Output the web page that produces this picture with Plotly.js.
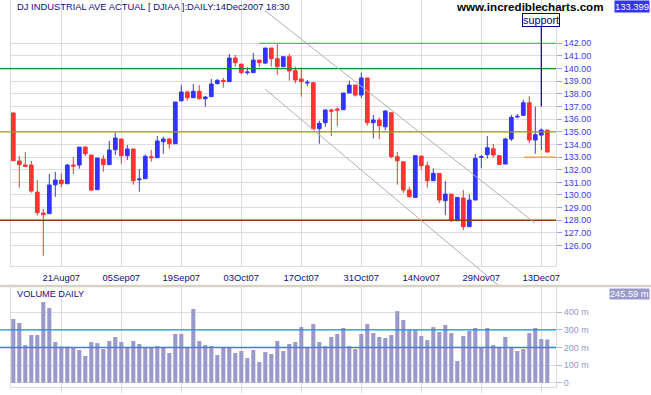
<!DOCTYPE html>
<html>
<head>
<meta charset="utf-8">
<script src="https://cdn.plot.ly/plotly-3.0.1.min.js"></script>
<style>html,body{margin:0;padding:0;background:#fff;}#chart{width:651px;height:395px;}</style>
</head>
<body>
<div id="chart"></div>
<script>
// ---------------- data ----------------
const dates = [
 '2007-08-09','2007-08-10','2007-08-13','2007-08-14','2007-08-15','2007-08-16','2007-08-17','2007-08-20','2007-08-21','2007-08-22',
 '2007-08-23','2007-08-24','2007-08-27','2007-08-28','2007-08-29','2007-08-30','2007-08-31','2007-09-04','2007-09-05','2007-09-06',
 '2007-09-07','2007-09-10','2007-09-11','2007-09-12','2007-09-13','2007-09-14','2007-09-17','2007-09-18','2007-09-19','2007-09-20',
 '2007-09-21','2007-09-24','2007-09-25','2007-09-26','2007-09-27','2007-09-28','2007-10-01','2007-10-02','2007-10-03','2007-10-04',
 '2007-10-05','2007-10-08','2007-10-09','2007-10-10','2007-10-11','2007-10-12','2007-10-15','2007-10-16','2007-10-17','2007-10-18',
 '2007-10-19','2007-10-22','2007-10-23','2007-10-24','2007-10-25','2007-10-26','2007-10-29','2007-10-30','2007-10-31','2007-11-01',
 '2007-11-02','2007-11-05','2007-11-06','2007-11-07','2007-11-08','2007-11-09','2007-11-12','2007-11-13','2007-11-14','2007-11-15',
 '2007-11-16','2007-11-19','2007-11-20','2007-11-21','2007-11-23','2007-11-26','2007-11-27','2007-11-28','2007-11-29','2007-11-30',
 '2007-12-03','2007-12-04','2007-12-05','2007-12-06','2007-12-07','2007-12-10','2007-12-11','2007-12-12','2007-12-13','2007-12-14'
];
const openP = [
 136.49,132.69,132.37,132.37,130.23,128.57,128.52,130.81,131.18,130.89,
 132.37,132.37,133.79,133.16,130.42,132.84,132.40,133.58,134.43,133.11,
 133.64,131.21,131.29,133.03,132.95,134.22,134.43,134.06,137.46,138.15,
 137.70,138.20,137.62,137.78,138.81,139.07,138.97,140.84,140.36,139.68,
 139.68,140.68,140.44,141.63,140.79,140.15,140.94,139.84,139.18,138.86,
 138.89,135.25,135.72,136.72,136.80,136.75,138.07,138.70,137.91,139.26,
 135.72,135.93,135.40,136.51,133.03,132.63,130.39,129.81,133.08,132.32,
 131.13,131.71,129.55,130.07,127.96,129.76,127.49,129.60,132.98,133.19,
 133.66,133.11,132.45,134.43,136.17,136.30,137.30,134.35,134.74,135.14
];
const highP = [
 136.52,133.08,133.40,132.69,131.18,128.89,131.66,131.82,131.71,132.45,
 133.00,133.79,133.87,133.16,132.92,133.16,134.27,134.93,134.43,133.95,
 133.64,132.05,133.21,133.56,134.67,134.61,134.53,137.36,138.70,138.25,
 138.78,138.70,137.83,139.18,139.18,139.26,141.16,141.08,140.36,140.10,
 141.23,140.68,141.63,141.63,142.00,141.00,141.16,140.15,140.07,139.10,
 138.89,135.88,136.78,136.83,136.93,138.07,139.05,138.70,139.68,139.26,
 136.33,136.14,136.72,136.51,133.40,132.63,130.65,133.11,133.08,132.63,
 132.11,131.71,131.10,130.07,129.81,130.39,130.05,133.24,133.16,134.67,
 134.03,133.16,134.53,136.35,136.41,137.54,137.83,136.99,135.27,135.14
];
const lowP = [
 132.68,130.58,132.24,130.18,128.39,125.19,128.52,129.86,130.60,130.89,
 131.66,132.08,133.08,130.31,130.42,131.84,132.40,133.16,132.47,132.77,
 130.81,130.26,131.29,132.63,132.95,133.27,133.66,134.06,137.38,137.46,
 137.70,137.54,136.99,137.78,138.75,138.49,138.97,140.15,139.55,139.52,
 139.68,140.13,140.36,140.15,139.52,140.15,139.05,138.83,137.78,138.62,
 135.22,134.06,135.40,134.67,135.46,136.75,138.07,137.78,137.67,135.48,
 134.48,134.43,135.14,132.90,130.81,130.18,129.86,129.81,131.97,130.58,
 131.13,129.36,128.41,127.88,127.96,127.22,127.49,129.60,132.11,132.87,
 132.95,132.37,132.45,134.27,136.06,136.30,134.08,133.27,133.56,133.35
];
const closeP = [
 132.71,132.40,132.26,130.31,128.60,128.44,130.79,131.18,130.89,132.37,
 132.29,133.79,133.27,130.39,132.92,132.40,133.56,134.51,133.11,133.64,
 131.13,131.26,133.06,132.95,134.27,134.43,134.06,137.36,138.15,137.70,
 138.20,137.62,137.75,138.78,139.07,138.99,140.84,140.47,139.68,139.73,
 140.68,140.47,141.63,140.79,140.15,140.94,139.81,139.10,138.97,138.91,
 135.22,135.67,136.72,136.64,136.72,138.07,138.70,137.91,139.26,135.72,
 135.93,135.48,136.64,133.03,132.71,130.39,129.86,133.11,132.32,131.13,
 131.71,129.60,130.07,127.96,129.81,127.49,129.60,132.90,133.03,133.74,
 133.16,132.42,134.43,136.14,136.22,137.30,134.35,134.77,135.14,133.399
];
const volumeM = [
 362,339,214,271,271,458,424,231,205,205,
 201,186,152,231,225,191,237,260,231,203,
 237,220,203,203,208,203,169,277,277,203,
 419,237,214,208,157,203,203,169,180,140,
 186,117,174,163,237,180,220,231,316,203,
 333,231,208,260,277,311,208,191,277,333,
 282,260,254,271,407,356,299,299,265,242,
 316,288,328,282,123,265,294,311,203,311,
 214,203,260,203,180,191,282,311,248,245.59
];
const tickDates  = ['2007-08-21','2007-09-05','2007-09-19','2007-10-03','2007-10-17','2007-10-31','2007-11-14','2007-11-29','2007-12-13'];
const tickLabels = ['21Aug07','05Sep07','19Sep07','03Oct07','17Oct07','31Oct07','14Nov07','29Nov07','13Dec07'];
const priceTicks = [126,127,128,129,130,131,132,133,134,135,136,137,138,139,140,141,142];
const volumeTicks = [0,100,200,300,400];
const volumeTickLabels = ['0','100 m','200 m','300 m','400 m'];
// horizontal price levels drawn on the chart
const resistance142 = 142, resistance140 = 140, level135 = 135, support128 = 128, support133 = 133;
const level142StartIndex = 40.95, level133StartIndex = 85.1;
const volumeLevels = [300, 200];
// trend channel lines: [start, end] as (bar index, price)
const upperChannelIdx = [41.95, 86.95], upperChannelPrice = [144.59, 127.78];
const lowerChannelIdx = [41.95, 80.78], lowerChannelPrice = [138.38, 122.88];
const supportDate = '2007-12-13', supportPrice = 137.0;
const lastClose = 133.399, lastVolume = 245.59;

// ---------------- layout geometry ----------------
const W = 651, H = 395;
const mL = 11, mR = 95, mT = 0, mB = 8;
const plotW = W - mL - mR, plotH = H - mT - mB;
const priceDomain = [(plotH - 266) / plotH, 1];
const volDomain = [0, (plotH - 287) / plotH];
const priceRange = [124.38, 145.43];
const volRange = [-24.4, 543.8];
const xRange = [-0.383, 90.45];
const px2paperX = px => (px - mL) / plotW;
const py2paperY = py => (plotH - (py - mT)) / plotH;
const price2paper = p => priceDomain[0] + (p - priceRange[0]) / (priceRange[1] - priceRange[0]) * (priceDomain[1] - priceDomain[0]);

const NAVY = '#10107a';
const GRID = '#dcdcdc';
const FONT = 'Arial, "Liberation Sans", sans-serif';

const traces = [
  {
    type: 'candlestick', x: dates, open: openP, high: highP, low: lowP, close: closeP,
    xaxis: 'x', yaxis: 'y', whiskerwidth: 0, hoverinfo: 'skip',
    increasing: {line: {color: '#3333ff', width: 1}, fillcolor: '#3333ff'},
    decreasing: {line: {color: '#ff3333', width: 1}, fillcolor: '#ff3333'}
  },
  {
    type: 'bar', x: dates, y: volumeM, xaxis: 'x2', yaxis: 'y2', width: 0.68,
    marker: {color: '#9999cc', line: {width: 0}}, hoverinfo: 'skip'
  }
];

const fullLeft = px2paperX(0);
const shapes = [
  // level lines
  {type:'line', xref:'x', yref:'y', x0: level142StartIndex, x1: xRange[1], y0: resistance142, y1: resistance142, line:{color:'#22e022', width:1.3}},
  {type:'line', xref:'paper', yref:'y', x0: fullLeft, x1: 1, y0: resistance140, y1: resistance140, line:{color:'#118822', width:1.3}},
  {type:'line', xref:'paper', yref:'y', x0: fullLeft, x1: 1, y0: level135, y1: level135, line:{color:'#999922', width:1.3}},
  {type:'line', xref:'paper', yref:'y', x0: fullLeft, x1: 1, y0: support128, y1: support128, line:{color:'#993300', width:1.3}},
  {type:'line', xref:'x', yref:'y', x0: level133StartIndex, x1: xRange[1], y0: support133, y1: support133, line:{color:'#ee9933', width:1.3}},
  // channel
  {type:'line', xref:'x', yref:'paper', x0: upperChannelIdx[0], x1: upperChannelIdx[1], y0: price2paper(upperChannelPrice[0]), y1: price2paper(upperChannelPrice[1]), line:{color:'#b0b0b0', width:1}},
  {type:'line', xref:'x', yref:'paper', x0: lowerChannelIdx[0], x1: lowerChannelIdx[1], y0: price2paper(lowerChannelPrice[0]), y1: price2paper(lowerChannelPrice[1]), line:{color:'#b0b0b0', width:1}},
  // volume levels
  {type:'line', xref:'paper', yref:'y2', x0: fullLeft, x1: 1, y0: volumeLevels[0], y1: volumeLevels[0], line:{color:'#1199cc', width:1.3}},
  {type:'line', xref:'paper', yref:'y2', x0: fullLeft, x1: 1, y0: volumeLevels[1], y1: volumeLevels[1], line:{color:'#1199cc', width:1.3}},
  // panel separator
  {type:'line', xref:'paper', yref:'paper', x0: fullLeft, x1: px2paperX(W), y0: py2paperY(286), y1: py2paperY(286), line:{color:'#d6d3c6', width:2.5}}
];

const annotations = [
  {xref:'paper', yref:'paper', x: px2paperX(15), y: py2paperY(7), xanchor:'left', yanchor:'middle', showarrow:false,
   text:'DJ INDUSTRIAL AVE ACTUAL [ DJIAA ]:DAILY:14Dec2007 18:30', font:{family:FONT, size:9.4, color:NAVY}},
  {xref:'paper', yref:'paper', x: px2paperX(529.5), y: py2paperY(7), xanchor:'center', yanchor:'middle', showarrow:false,
   text:'<b>www.incrediblecharts.com</b>', font:{family:FONT, size:11.6, color:'#000000'}},
  {xref:'paper', yref:'paper', x: px2paperX(650), y: py2paperY(6.8), xanchor:'right', yanchor:'middle', showarrow:false,
   text: lastClose.toFixed(3), bgcolor:'#3333ff', borderpad:0, font:{family:FONT, size:9.4, color:'#ffffff'}},
  {xref:'x', yref:'y', x: supportDate, y: supportPrice, ax: 0, ay: -86.4, showarrow:true, arrowhead:0, arrowwidth:1.2, arrowcolor:'#000070',
   text:'support', bordercolor:'#000070', borderwidth:1, borderpad:0, bgcolor:'#ffffff', font:{family:FONT, size:10.8, color:'#000070'}},
  {xref:'paper', yref:'paper', x: px2paperX(15), y: py2paperY(293.5), xanchor:'left', yanchor:'middle', showarrow:false,
   text:'VOLUME DAILY', font:{family:FONT, size:9.2, color:NAVY}},
  {xref:'paper', yref:'paper', x: px2paperX(650), y: py2paperY(293.8), xanchor:'right', yanchor:'middle', showarrow:false,
   text: lastVolume.toFixed(2) + ' m', bgcolor:'#9999cc', borderpad:0, font:{family:FONT, size:9.2, color:'#ffffff'}}
];

const layout = {
  width: W, height: H,
  margin: {l: mL, r: mR, t: mT, b: mB, pad: 0},
  paper_bgcolor: '#ffffff', plot_bgcolor: '#ffffff',
  showlegend: false,
  boxgap: 0.38, boxgroupgap: 0,
  xaxis: {
    type: 'category', domain: [0, 1], range: xRange, anchor: 'y',
    tickmode: 'array', tickvals: tickDates, ticktext: tickLabels,
    showgrid: true, gridcolor: GRID, gridwidth: 1,
    ticks: 'outside', ticklen: 3, tickcolor: 'rgba(0,0,0,0)',
    tickfont: {family: FONT, size: 9.4, color: NAVY},
    showline: true, linecolor: GRID, linewidth: 1, zeroline: false,
    rangeslider: {visible: false}, fixedrange: true
  },
  yaxis: {
    domain: priceDomain, range: priceRange, side: 'right', anchor: 'x',
    tickmode: 'array', tickvals: priceTicks, ticktext: priceTicks.map(v => v.toFixed(2)),
    showgrid: true, gridcolor: GRID, gridwidth: 1,
    ticks: 'outside', ticklen: 5, tickcolor: '#9a9aff',
    tickfont: {family: FONT, size: 9, color: '#3c3cf5'},
    showline: true, mirror: true, linecolor: GRID, zeroline: false, fixedrange: true
  },
  xaxis2: {
    type: 'category', domain: [0, 1], range: xRange, anchor: 'y2',
    tickmode: 'array', tickvals: tickDates, showticklabels: false,
    showgrid: true, gridcolor: GRID, gridwidth: 1,
    ticks: 'outside', ticklen: 5, tickcolor: GRID,
    showline: true, linecolor: GRID, zeroline: false, fixedrange: true
  },
  yaxis2: {
    domain: volDomain, range: volRange, side: 'right', anchor: 'x2',
    tickmode: 'array', tickvals: volumeTicks, ticktext: volumeTickLabels,
    showgrid: true, gridcolor: GRID, gridwidth: 1,
    ticks: 'outside', ticklen: 5, tickcolor: '#b4b4dc',
    tickfont: {family: FONT, size: 9, color: '#9999cc'},
    showline: true, mirror: true, linecolor: GRID, zeroline: false, fixedrange: true
  },
  shapes: shapes,
  annotations: annotations
};

Plotly.newPlot('chart', traces, layout, {staticPlot: true, displayModeBar: false});
</script>
</body>
</html>
